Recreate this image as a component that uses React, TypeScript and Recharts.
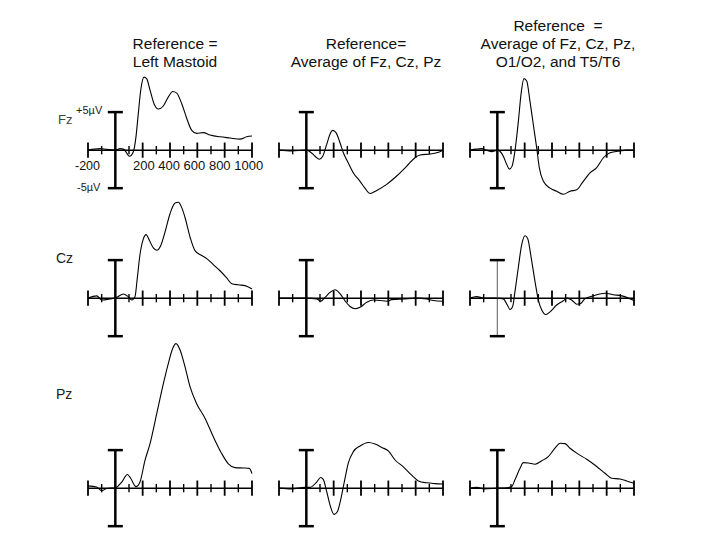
import { Line, LineChart, ReferenceLine, XAxis, YAxis } from "recharts";

type Pt = [number, number]; // [ms, µV]

const TIME_DOMAIN: [number, number] = [-200, 1000];
const UV_DOMAIN: [number, number] = [-8, 20];
const TIME_TICKS = [-200, -100, 0, 100, 200, 300, 400, 500, 600, 700, 800, 900, 1000];

const COLUMN_TITLES = [
  ["Reference =", "Left Mastoid"],
  ["Reference=", "Average of Fz, Cz, Pz"],
  ["Reference  =", "Average of Fz, Cz, Pz,", "O1/O2, and T5/T6"],
];
const CHANNELS = ["Fz", "Cz", "Pz"];
const X_TICK_LABELS = ["-200", "200 400 600 800 1000"];
const SCALE_LABELS = ["+5µV", "-5µV"];

// row Fz
const fzMastoid: Pt[] = [
  [-200, 0], [-112, 0.2], [-63, 0.1], [0, 0], [34, 0.2], [63, 0.1], [103, -0.8],
  [132, -0.2], [151, 1.75], [168, 4.8], [186, 7.9], [210, 9.6], [229, 9.4],
  [254, 7.9], [283, 6.1], [315, 5.4], [351, 5.8], [388, 7.0], [420, 7.7],
  [449, 7.5], [486, 6.1], [522, 4.2], [559, 2.6], [595, 2.2], [644, 2.3],
  [693, 2.0], [766, 1.75], [839, 1.6], [912, 1.45], [961, 1.75], [1000, 1.85],
];
const fzAvg3: Pt[] = [
  [-200, 0], [-107, -0.1], [0, 0], [27, -0.2], [64, -0.8], [95, -1.2], [120, -0.8],
  [149, 0.75], [173, 2.1], [193, 2.6], [217, 2.3], [246, 1.0], [271, -0.35],
  [307, -1.7], [344, -3.0], [393, -4.1], [429, -5.0], [466, -5.7], [515, -5.3],
  [588, -4.5], [661, -3.4], [735, -2.1], [795, -1.0], [832, -0.65], [905, -0.5],
  [954, -0.35], [1000, 0],
];
const fzAvg5: Pt[] = [
  [-200, 0], [-114, 0.2], [-80, 0], [-41, -0.2], [0, 0], [44, -0.8], [69, -1.9],
  [88, -2.5], [108, -2.1], [129, -0.1], [154, 3.8], [173, 7.3], [195, 9.4],
  [215, 9.1], [239, 6.4], [263, 3.4], [288, 0.3], [307, -2.3], [337, -4.1],
  [386, -5.0], [434, -5.4], [483, -5.8], [532, -5.4], [581, -5.2], [629, -4.1],
  [678, -3.0], [727, -2.3], [776, -1.0], [824, -0.35], [898, -0.1], [946, 0], [1000, 0],
];

// row Cz
const czMastoid: Pt[] = [
  [-200, 0], [-136, 0.3], [-100, -0.25], [-39, -0.1], [10, 0.1], [59, 0.55],
  [95, 0.2], [120, -0.25], [144, 0.2], [161, 2.7], [181, 5.8], [205, 7.8],
  [225, 8.35], [249, 7.6], [278, 6.6], [303, 6.3], [332, 6.9], [364, 8.7],
  [400, 11.1], [437, 12.5], [461, 12.6], [486, 11.9], [510, 10.6], [547, 8.0],
  [583, 6.25], [632, 5.6], [669, 5.2], [717, 4.4], [766, 3.6], [815, 2.65],
  [852, 1.9], [900, 1.75], [949, 1.65], [1000, 1.2],
];
const czAvg3: Pt[] = [
  [-200, 0], [0, 0], [76, -0.1], [105, -0.4], [137, 0.1], [173, 0.75], [210, 1.1],
  [246, 0.6], [283, -0.35], [320, -1.1], [356, -1.4], [393, -1.2], [442, -0.55],
  [490, -0.25], [539, -0.3], [588, -0.4], [625, -0.2], [710, -0.1], [808, 0],
  [881, -0.1], [929, -0.3], [1000, -0.4],
];
const czAvg5: Pt[] = [
  [-200, 0], [-151, 0.2], [-98, 0], [0, 0], [44, -0.1], [73, -0.9], [93, -1.5],
  [113, -1.05], [129, 0.85], [154, 4.1], [178, 7.0], [203, 8.2], [222, 7.85],
  [247, 5.4], [276, 2.15], [300, -0.25], [325, -1.55], [356, -2.15], [386, -1.8],
  [434, -0.9], [483, -0.35], [512, 0], [544, -0.25], [581, -0.8], [610, -0.7],
  [642, -0.05], [702, 0.3], [788, 0.65], [849, 0.45], [910, 0.3], [946, 0.1], [1000, -0.3],
];

// row Pz
const pzMastoid: Pt[] = [
  [-200, 0.3], [-136, 0.15], [-100, -0.35], [-63, -0.05], [0, 0.05], [47, 0.8],
  [88, 1.8], [112, 1.3], [151, 0.2], [181, 0.85], [217, 3.65], [254, 5.85],
  [303, 9.8], [351, 13.7], [388, 16.4], [420, 18.4], [444, 19.0], [473, 18.2],
  [510, 15.95], [547, 13.3], [595, 11.1], [656, 9.2], [717, 6.75], [778, 4.55],
  [827, 3.2], [876, 2.7], [937, 2.65], [980, 2.6], [1000, 1.9],
];
const pzAvg3: Pt[] = [
  [-200, 0], [-107, -0.1], [-10, 0.1], [27, 0.1], [76, 0.8], [105, 1.4], [124, 1.15],
  [149, -0.45], [173, -2.2], [203, -3.45], [227, -3.1], [251, -1.55], [276, 0.65],
  [307, 3.3], [344, 4.8], [393, 5.55], [454, 6.0], [503, 5.8], [552, 5.35],
  [600, 4.9], [649, 3.7], [710, 2.8], [771, 1.7], [820, 0.95], [881, 0.7],
  [941, 0.6], [1000, 0.55],
];
const pzAvg5: Pt[] = [
  [-200, 0], [-150, 0.1], [-98, -0.1], [0, 0], [69, 0.05], [105, 0.2], [129, 1.1],
  [166, 2.6], [190, 3.35], [227, 3.3], [276, 3.15], [325, 3.6], [373, 4.15],
  [422, 5.25], [459, 5.9], [495, 5.85], [532, 5.25], [581, 4.6], [654, 3.8],
  [727, 2.85], [788, 1.95], [837, 1.3], [898, 1.2], [946, 0.95], [1000, 0.65],
];

const GRID: Pt[][][] = [
  [fzMastoid, fzAvg3, fzAvg5],
  [czMastoid, czAvg3, czAvg5],
  [pzMastoid, pzAvg3, pzAvg5],
];

const COL_LEFT = [78, 269, 460];
const ROW_ZERO = [150, 297.5, 488];
const FONT = '"Liberation Sans", Arial, sans-serif';

function Erp({ data, left, zeroY, thinBar }: { data: Pt[]; left: number; zeroY: number; thinBar?: boolean }) {
  const rows = data.map(([t, v]) => ({ t, v }));
  const barStroke = thinBar ? "#777" : "#000";
  const barWidth = thinBar ? 1.2 : 2.5;
  return (
    <div style={{ position: "absolute", left, top: zeroY - 152 }}>
      <LineChart width={184} height={213} data={rows} margin={{ top: 0, right: 10, bottom: 0, left: 10 }}>
        <XAxis type="number" dataKey="t" domain={TIME_DOMAIN} hide />
        <YAxis type="number" domain={UV_DOMAIN} hide />
        <ReferenceLine y={0} stroke="#000" strokeWidth={1.5} />
        {TIME_TICKS.filter((t) => t !== 0).map((t) => {
          const h = t % 200 === 0 ? 1.0 : 0.55;
          return (
            <ReferenceLine
              key={t}
              segment={[{ x: t, y: -h }, { x: t, y: h }]}
              stroke="#000"
              strokeWidth={t % 200 === 0 ? 1.8 : 1.4}
            />
          );
        })}
        <ReferenceLine segment={[{ x: 0, y: -5 }, { x: 0, y: 5 }]} stroke={barStroke} strokeWidth={barWidth} />
        <ReferenceLine segment={[{ x: -55, y: 5 }, { x: 55, y: 5 }]} stroke="#000" strokeWidth={2.5} />
        <ReferenceLine segment={[{ x: -55, y: -5 }, { x: 55, y: -5 }]} stroke="#000" strokeWidth={2.5} />
        <Line
          type="monotone"
          dataKey="v"
          stroke="#000"
          strokeWidth={1.1}
          dot={false}
          isAnimationActive={false}
        />
      </LineChart>
    </div>
  );
}

const TITLE_X = [175, 366, 558];

export default function App() {
  return (
    <div style={{ position: "absolute", left: 0, top: 0, width: 720, height: 540, background: "#fff", fontFamily: FONT }}>
      {GRID.map((row, r) =>
        row.map((d, c) => (
          <Erp key={`${r}-${c}`} data={d} left={COL_LEFT[c]} zeroY={ROW_ZERO[r]} thinBar={r === 1 && c === 2} />
        ))
      )}
      <svg width={720} height={540} style={{ position: "absolute", left: 0, top: 0, pointerEvents: "none" }}>
        {COLUMN_TITLES.map((lines, c) =>
          lines.map((s, i) => (
            <text
              key={`${c}-${i}`}
              x={TITLE_X[c]}
              y={67 - (lines.length - 1 - i) * 18}
              textAnchor="middle"
              fontSize={15.5}
              fill="#111"
              style={{ whiteSpace: "pre" }}
            >
              {s}
            </text>
          ))
        )}
        <text x={58} y={124} fontSize={13} fill="#444">{CHANNELS[0]}</text>
        <text x={56} y={263} fontSize={14} fill="#222">{CHANNELS[1]}</text>
        <text x={56} y={399} fontSize={14} fill="#222">{CHANNELS[2]}</text>
        <text x={76} y={114} fontSize={11} fill="#222">{SCALE_LABELS[0]}</text>
        <text x={77} y={191} fontSize={11} fill="#222">{SCALE_LABELS[1]}</text>
        <text x={75} y={170} fontSize={12.5} fill="#111">{X_TICK_LABELS[0]}</text>
        <text x={133} y={170} fontSize={13} fill="#111">{X_TICK_LABELS[1]}</text>
      </svg>
    </div>
  );
}
